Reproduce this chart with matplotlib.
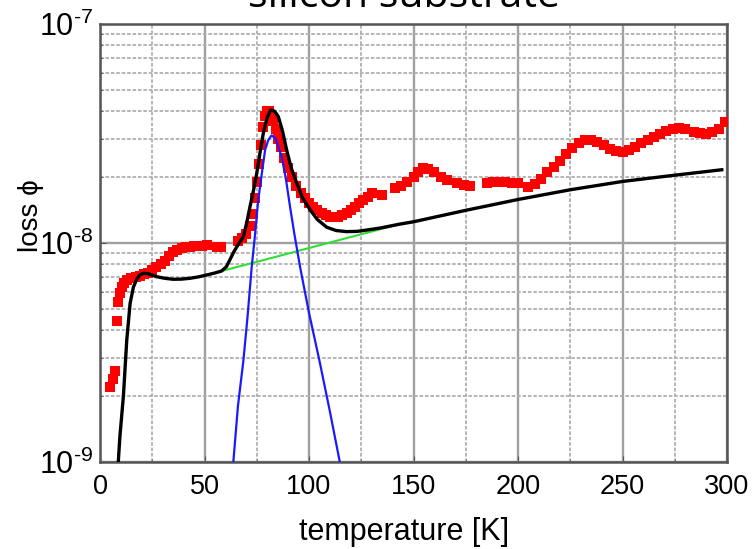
import matplotlib
matplotlib.use("Agg")
import numpy as np
import matplotlib.pyplot as plt
from matplotlib.ticker import LogLocator, MultipleLocator, NullFormatter, FuncFormatter

plt.rcParams['font.family'] = ['Liberation Sans', 'DejaVu Sans']

# measured loss (red squares)
red_T = [5.0, 6.0, 7.0, 8.0, 8.5, 9.5, 10.5, 11.5, 13, 15, 17, 19, 21, 23, 25, 27, 29, 31, 33, 35,
         37, 39, 41, 43, 45, 47, 49, 51, 56, 58, 66, 68, 70, 72, 73, 74, 75, 76, 77, 78,
         79, 80, 81, 82, 83, 84, 85, 86.5, 88, 90, 92, 94, 96, 98, 100, 102, 104, 106, 108, 110,
         112, 114, 116, 118, 120, 122, 124, 126, 128, 130, 135, 141, 144, 147, 150, 152, 154.5, 157, 160, 163,
         166, 171, 174, 177, 185, 188, 191, 194, 197, 200, 205, 208, 211, 214, 217, 220, 223, 226, 229, 232,
         235, 238, 241, 244, 247, 250, 253, 256, 259, 262, 265, 268, 271, 274, 277, 280, 284, 287, 290, 293,
         296, 299]
red_loss = [2.2e-9, 2.4e-9, 2.6e-9, 4.4e-9, 5.4e-9, 5.9e-9, 6.3e-9, 6.6e-9, 6.8e-9, 6.9e-9,
            7.0e-9, 7.1e-9, 7.2e-9, 7.3e-9, 7.5e-9, 7.8e-9, 8.0e-9, 8.3e-9, 8.7e-9, 9.1e-9,
            9.3e-9, 9.5e-9, 9.6e-9, 9.6e-9, 9.7e-9, 9.7e-9, 9.7e-9, 9.8e-9, 9.6e-9, 9.6e-9,
            1.02e-8, 1.05e-8, 1.1e-8, 1.2e-8, 1.35e-8, 1.6e-8, 1.9e-8, 2.3e-8, 2.8e-8, 3.4e-8,
            3.8e-8, 4.0e-8, 4.0e-8, 3.8e-8, 3.6e-8, 3.3e-8, 3.0e-8, 2.75e-8, 2.45e-8, 2.2e-8,
            2.0e-8, 1.83e-8, 1.7e-8, 1.6e-8, 1.52e-8, 1.46e-8, 1.41e-8, 1.37e-8, 1.34e-8, 1.32e-8,
            1.31e-8, 1.32e-8, 1.34e-8, 1.37e-8, 1.41e-8, 1.46e-8, 1.52e-8, 1.57e-8, 1.63e-8, 1.7e-8,
            1.66e-8, 1.78e-8, 1.83e-8, 1.9e-8, 2.0e-8, 2.1e-8, 2.2e-8, 2.18e-8, 2.1e-8, 2.0e-8,
            1.93e-8, 1.87e-8, 1.84e-8, 1.82e-8, 1.88e-8, 1.89e-8, 1.89e-8, 1.89e-8, 1.88e-8, 1.87e-8,
            1.8e-8, 1.86e-8, 1.95e-8, 2.1e-8, 2.22e-8, 2.38e-8, 2.55e-8, 2.72e-8, 2.87e-8, 2.96e-8,
            2.96e-8, 2.9e-8, 2.8e-8, 2.7e-8, 2.62e-8, 2.6e-8, 2.65e-8, 2.75e-8, 2.85e-8, 2.95e-8,
            3.05e-8, 3.15e-8, 3.25e-8, 3.32e-8, 3.35e-8, 3.3e-8, 3.2e-8, 3.17e-8, 3.15e-8, 3.2e-8,
            3.32e-8, 3.55e-8]

# total fit (black)
fit_T = [8.6, 9.5, 11.2, 12.8, 14.4, 16, 17.5, 19, 20.7, 23, 27, 31, 35, 39, 43, 47, 51, 55, 58.2, 60.5,
         62.2, 64, 66, 68.6, 70.3, 71.8, 73.5, 75, 76.6, 78.1, 80, 81.7, 83.5, 85.3, 87.3, 89.3, 91.5, 94.1, 97, 100.5,
         104, 108.5, 113, 118, 123, 127.6, 134, 143.5, 150, 175, 200, 225, 250, 275, 297.5]
fit_loss = [9.5e-10, 1.3e-9, 2.0e-9, 3.6e-9, 5.3e-9, 6.3e-9, 6.8e-9, 7.15e-9, 7.27e-9, 7.25e-9,
            7.02e-9, 6.9e-9, 6.83e-9, 6.84e-9, 6.9e-9, 7.0e-9, 7.14e-9, 7.3e-9, 7.45e-9, 7.8e-9,
            8.4e-9, 9.1e-9, 9.8e-9, 1.07e-8, 1.25e-8, 1.47e-8, 1.75e-8, 2.08e-8, 2.6e-8, 3.16e-8,
            3.75e-8, 4.05e-8, 4.0e-8, 3.78e-8, 3.25e-8, 2.66e-8, 2.2e-8, 1.88e-8, 1.6e-8, 1.42e-8,
            1.28e-8, 1.18e-8, 1.14e-8, 1.127e-8, 1.13e-8, 1.146e-8, 1.17e-8, 1.22e-8, 1.25e-8, 1.41e-8,
            1.58e-8, 1.75e-8, 1.91e-8, 2.04e-8, 2.16e-8]

# background (green)
bg_T = [58.2, 75, 95.7, 120, 143.5]
bg_loss = [7.45e-9, 8.2e-9, 9.25e-9, 1.065e-8, 1.22e-8]

# peak component (blue)
pk_T = [63.6, 66, 68.6, 70.5, 72.6, 74, 75.7, 77.5, 79, 80.5, 82.1, 84, 86.9, 89, 90.9, 93, 95.7,
        100, 105, 110, 115.2]
pk_loss = [9.5e-10, 1.8e-9, 2.9e-9, 4.5e-9, 7.8e-9, 1.05e-8, 1.57e-8, 2.1e-8, 2.66e-8, 2.95e-8,
           3.1e-8, 3.0e-8, 2.48e-8, 1.95e-8, 1.47e-8, 1.1e-8, 7.8e-9, 4.8e-9, 2.9e-9, 1.7e-9, 9.5e-10]

fig = plt.figure(figsize=(7.53, 5.49), dpi=100)
ax = fig.add_axes([100/753, 87/549, 627/753, 438/549])

ax.set_yscale('log')
ax.set_xlim(0, 300)
ax.set_ylim(1e-9, 1e-7)

ax.xaxis.set_major_locator(MultipleLocator(50))
ax.xaxis.set_minor_locator(MultipleLocator(25))
ax.yaxis.set_major_locator(LogLocator(base=10, numticks=5))
ax.yaxis.set_minor_locator(LogLocator(base=10, subs=range(2, 10), numticks=20))
ax.yaxis.set_minor_formatter(NullFormatter())

HYPHEN = '\u2010'


def ylab(v, pos):
    e = int(round(np.log10(v)))
    return '$\\mathdefault{10^{' + HYPHEN + str(-e) + '}}$'


ax.yaxis.set_major_formatter(FuncFormatter(ylab))

ax.grid(which='major', color='#a0a0a0', linestyle='-', linewidth=1.7)
ax.grid(which='minor', color='#b0b0b0', linestyle=(0, (2, 1)), linewidth=1.3)
ax.set_axisbelow(True)

ax.plot(red_T, red_loss, linestyle='none', marker='s', markersize=6.8,
        color='#ff0000', markeredgewidth=0, zorder=3)
ax.plot(bg_T, bg_loss, color='#33dd33', linewidth=1.5, zorder=4)
ax.plot(pk_T, pk_loss, color='#1a1aff', linewidth=1.6, zorder=5)
ax.plot(fit_T, fit_loss, color='black', linewidth=2.4, zorder=6)

for s in ax.spines.values():
    s.set_color('#555555')
    s.set_linewidth(1.8)

ax.tick_params(which='both', direction='in', colors='#555555', labelcolor='black',
               top=False, right=False)
ax.tick_params(axis='x', which='major', length=4, pad=9, labelsize=19.5)
ax.tick_params(axis='y', which='major', length=4, pad=5, labelsize=22)
ax.tick_params(which='minor', length=2)

ax.set_xlabel('temperature [K]', fontsize=22, va='center')
ax.xaxis.set_label_coords((404 - 100) / 627, -(532 - 462) / 438)
ax.set_ylabel('loss ϕ', fontsize=20, va='center')
ax.yaxis.set_label_coords((31 - 100) / 627, (462 - 216) / 438)

fig.text(404/753, 1 - 7/549, 'silicon substrate', fontsize=29.5,
         family=['Open Sans', 'DejaVu Sans'], ha='center', va='baseline')

fig.savefig('out.png', dpi=100)
